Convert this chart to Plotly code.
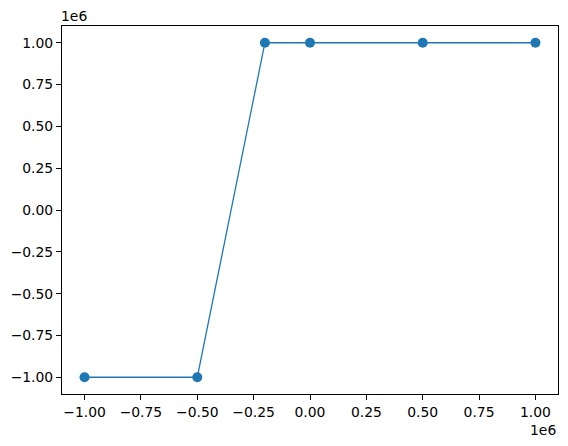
import plotly.graph_objects as go

x_vals = [-1e6, -0.5e6, -0.2e6, 0, 0.5e6, 1e6]
y_vals = [-1e6, -1e6, 1e6, 1e6, 1e6, 1e6]

tick_vals = [-1e6, -0.75e6, -0.5e6, -0.25e6, 0, 0.25e6, 0.5e6, 0.75e6, 1e6]
tick_text = [("%.2f" % (v / 1e6)).replace("-", "\u2212") for v in tick_vals]

color = "#1f77b4"
font = dict(family="DejaVu Sans", size=13.9, color="black")

fig = go.Figure()
fig.add_trace(go.Scatter(
    x=x_vals, y=y_vals, mode="lines+markers",
    line=dict(color=color, width=1.3),
    marker=dict(color=color, size=10),
))

axis_common = dict(
    showgrid=False, zeroline=False, showline=True, linecolor="black", linewidth=1,
    mirror=True, ticks="outside", ticklen=5, tickcolor="black", tickwidth=1,
    tickfont=font, tickmode="array", tickvals=tick_vals, ticktext=tick_text,
)
fig.update_xaxes(range=[-1.1e6, 1.1e6], **axis_common)
fig.update_yaxes(range=[-1.1e6, 1.1e6], **axis_common)

fig.update_layout(
    width=568, height=446,
    margin=dict(l=62, r=10, t=26, b=52),
    plot_bgcolor="white", paper_bgcolor="white",
    showlegend=False,
    annotations=[
        dict(text="1e6", xref="paper", yref="paper", x=0, y=1, xanchor="left",
             yanchor="bottom", showarrow=False, font=font, yshift=0, xshift=-3),
        dict(text="1e6", xref="paper", yref="paper", x=1, y=0, xanchor="right",
             yanchor="top", showarrow=False, font=font, yshift=-26),
    ],
)

fig.write_html("out.html", config={"displayModeBar": False},
               post_script="document.body.style.margin='0';")
